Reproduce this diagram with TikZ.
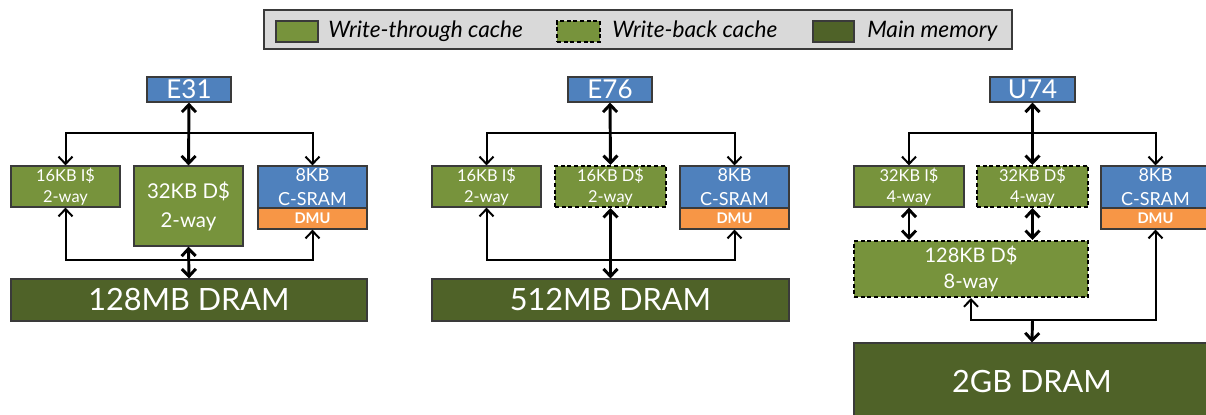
\documentclass[tikz,border=0pt]{standalone}
\usepackage{fontspec}
\setmainfont{Lato}
\usetikzlibrary{arrows.meta}
\definecolor{wt}{HTML}{77933C}
\definecolor{mm}{HTML}{4F6228}
\definecolor{cpu}{HTML}{4F81BD}
\definecolor{dmuc}{HTML}{F79646}
\definecolor{lg}{HTML}{D9D9D9}
\definecolor{bd}{HTML}{3A3A3A}
\newcommand\bx[7]{\node[#6, minimum width={(#4-#2)*0.75pt}, minimum height={(#5-#3)*0.75pt}] (#1) at ({(#2+#4)/2},{(#3+#5)/2}) {#7};}
\tikzset{
  base/.style={inner sep=0pt, align=center, text=white, draw=bd, line width=0.9pt},
  wtbox/.style={base, fill=wt},
  wbbox/.style={base, fill=wt, draw=black, line width=1.5pt, dash pattern=on 3pt off 2pt},
  mmbox/.style={base, fill=mm},
  cpubox/.style={base, fill=cpu},
  dmubox/.style={base, fill=dmuc, font=\bfseries\fontsize{11}{12}\selectfont},
  small/.style={font=\fontsize{12.3}{15.75}\selectfont},
  sram/.style={font=\fontsize{13.5}{18}\selectfont},
  dbig/.style={font=\fontsize{15.3}{21.75}\selectfont},
  ltwo/.style={font=\fontsize{15}{19.5}\selectfont},
  big/.style={font=\fontsize{23}{26}\selectfont},
  core/.style={font=\fontsize{19.5}{21}\selectfont},
  conn/.style={line width=1.5pt, arrows={-}},
  tip/.style={-{Straight Barb[length=5.5pt,width=10.5pt]}},
  tips/.style={{Straight Barb[length=5.5pt,width=10.5pt]}-{Straight Barb[length=5.5pt,width=10.5pt]}},
  thick2/.style={line width=2.2pt},
  lgtext/.style={font=\itshape\fontsize{17}{19}\selectfont, anchor=base west, inner sep=0pt, text=black},
}
\begin{document}
\begin{tikzpicture}[x=0.75pt,y=-0.75pt]
\useasboundingbox (0,0) rectangle (1206,414);
% legend
\bx{leg}{264}{10}{1012}{49}{fill=lg, draw=bd, line width=0.9pt, inner sep=0pt}{}
\bx{lg1}{276}{21}{318}{42}{wtbox}{}
\bx{lg2}{557}{21}{600}{42}{wbbox}{}
\bx{lg3}{813}{21}{854}{42}{mmbox}{}
\node[lgtext] (lt1) at (328,37) {Write-through cache};
\node[lgtext] (lt2) at (612,37) {Write-back cache};
\node[lgtext] (lt3) at (867,37) {Main memory};

% ===== E31 =====
\bx{ac}{147}{77}{231}{102}{cpubox,core}{E31}
\bx{ai}{11}{166}{120}{207}{wtbox,small}{16KB I\$\\2-way}
\bx{ad}{134}{166}{243}{246}{wtbox,dbig}{32KB D\$\\2-way}
\bx{as}{258}{166}{367}{208}{cpubox,sram}{8KB\\C-SRAM}
\bx{am}{258}{208}{367}{229}{dmubox}{DMU}
\bx{ar}{11}{279}{367}{321}{mmbox,big}{128MB DRAM}
\coordinate (atb) at (189,133);
\coordinate (abb) at (189,260);
\draw[conn,tip] (atb) -| (ai.north);
\draw[conn,tip] (atb) -| (as.north);
\draw[conn,tips] (ai.south) |- (abb) -| (am.south);
\draw[conn,thick2,tips] (ac.south) -- (ad.north);
\draw[conn,thick2,tips] (ad.south) -- (ar.north);

% ===== E76 =====
\bx{bc}{568}{77}{652}{102}{cpubox,core}{E76}
\bx{bi}{432}{166}{541}{207}{wtbox,small}{16KB I\$\\2-way}
\bx{bd}{555}{166}{666}{207}{wbbox,small}{16KB D\$\\2-way}
\bx{bs}{680}{166}{789}{208}{cpubox,sram}{8KB\\C-SRAM}
\bx{bm}{680}{208}{789}{229}{dmubox}{DMU}
\bx{br}{432}{279}{789}{321}{mmbox,big}{512MB DRAM}
\coordinate (btb) at (610.5,133);
\coordinate (bbb) at (610.5,260);
\draw[conn,tip] (btb) -| (bi.north);
\draw[conn,tip] (btb) -| (bs.north);
\draw[conn,tips] (bi.south) |- (bbb) -| (bm.south);
\draw[conn,thick2,tips] (bc.south) -- (bd.north);
\draw[conn,thick2,tips] (bd.south) -- (br.north);

% ===== U74 =====
\bx{cc}{990}{77}{1075}{102}{cpubox,core}{U74}
\bx{ci}{854}{166}{964}{207}{wtbox,small}{32KB I\$\\4-way}
\bx{cd}{977}{166}{1088}{207}{wbbox,small}{32KB D\$\\4-way}
\bx{cs}{1101}{166}{1210}{208}{cpubox,sram}{8KB\\C-SRAM}
\bx{cm}{1101}{208}{1210}{229}{dmubox}{DMU}
\bx{cl}{854}{241}{1088}{297}{wbbox,ltwo}{128KB D\$\\8-way}
\bx{cr}{854}{343}{1210}{421}{mmbox,big}{2GB DRAM}
\coordinate (ctb) at (1032.5,133);
\coordinate (cbb) at (1032.5,320);
\draw[conn,tip] (ctb) -| (ci.north);
\draw[conn,tip] (ctb) -| (cs.north);
\draw[conn,thick2,tips] (cc.south) -- (cd.north);
\draw[conn,thick2,tips] (ci.south) -- (ci.south |- cl.north);
\draw[conn,thick2,tips] (cd.south) -- (cd.south |- cl.north);
\draw[conn,tips] (cl.south) |- (cbb) -| (cm.south);
\draw[conn,thick2,tip] (cbb) -- (cr.north);
\end{tikzpicture}
\end{document}
